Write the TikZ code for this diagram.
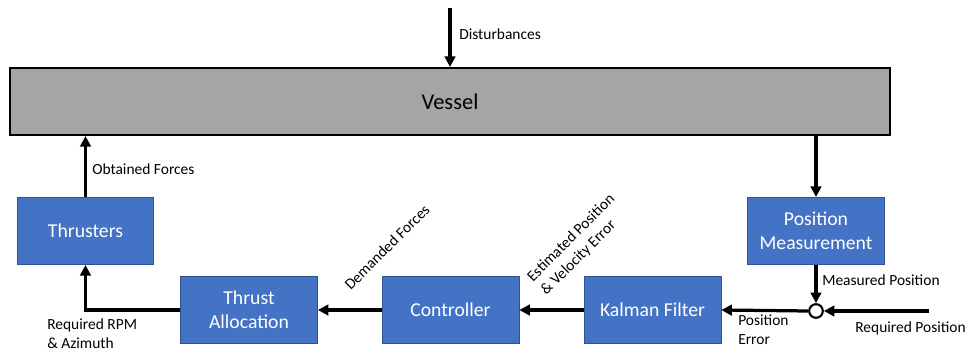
\documentclass[tikz,border=0pt]{standalone}
\usepackage{fontspec}
\setmainfont{Carlito}
\usetikzlibrary{arrows.meta}
\definecolor{boxblue}{HTML}{4472C4}
\definecolor{boxedge}{HTML}{2F528F}
\definecolor{vesselgray}{HTML}{A5A5A5}
\begin{document}
\begin{tikzpicture}[x=0.025cm, y=-0.025cm,
        block/.style={rectangle, draw=boxedge, line width=0.6pt, fill=boxblue, text=white, align=center,
            minimum width=3.42cm, minimum height=1.68cm, inner sep=1pt, font=\fontsize{14}{17}\selectfont},
        vesselbox/.style={rectangle, draw=black, line width=1.3pt, fill=vesselgray,
            minimum width=22cm, minimum height=1.68cm, font=\fontsize{16}{19}\selectfont},
        sumnode/.style={circle, draw=black, line width=1.5pt, fill=white, minimum size=0.34cm, inner sep=0pt},
        flow/.style={line width=2.3pt, -{Triangle[length=7.5pt, width=7.5pt]}},
        lbl/.style={inner sep=0pt, align=left, font=\fontsize{11}{13.5}\selectfont}]
        \useasboundingbox (0,0) rectangle (968,354);
        \node[vesselbox] (vessel) at (450,101.5) {Vessel};
        \foreach \name/\x/\y/\txt in {thr/85.5/231/Thrusters, alloc/249/310/Thrust\\Allocation,
            ctrl/450.5/310/Controller, kal/652.5/310/Kalman Filter, meas/816/231/Position\\Measurement} {
            \node[block] (\name) at (\x,\y) {\txt};
        }
        \node[sumnode] (sum) at (816,311) {};
        \coordinate (dist) at (450,8);
        \coordinate (req) at (929,311);
        \draw[flow] (dist) -- (vessel.north);
        \draw[flow] (thr.north) -- (thr.north |- vessel.south);
        \draw[flow] (meas.north |- vessel.south) -- (meas.north);
        \draw[flow] (meas.south) -- (sum.north);
        \draw[flow] (req) -- (sum.east);
        \draw[flow] (sum.west) -- (kal.east);
        \draw[flow] (kal.west) -- (ctrl.east);
        \draw[flow] (ctrl.west) -- (alloc.east);
        \draw[flow] (alloc.west) -| (thr.south);
        % signal labels
        \node[lbl, anchor=west] (ldist) at (459,34) {Disturbances};
        \node[lbl, anchor=west] (lobt) at (92,169) {Obtained Forces};
        \node[lbl, anchor=west] (lmeas) at (822,280) {Measured Position};
        \node[lbl, anchor=west] (lreq) at (855,328) {Required Position};
        \node[lbl, anchor=north west] (lerr) at (738,315) {Position\\Error};
        \node[lbl, anchor=north west] (lrpm) at (47,318) {Required RPM\\\& Azimuth};
        \node[lbl, rotate=45] (ldem) at (387,247) {Demanded Forces};
        \node[lbl, rotate=45] (lest) at (578,245) {Estimated Position\\\& Velocity Error};
\end{tikzpicture}
\end{document}
